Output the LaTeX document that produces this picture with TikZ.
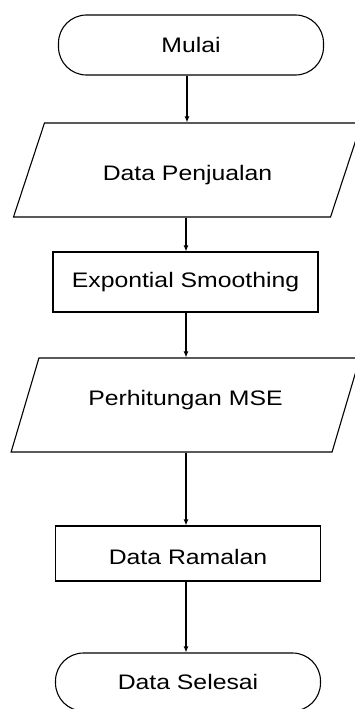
\documentclass[tikz,border=0pt]{standalone}
\usepackage{fontspec}
\setmainfont[FakeStretch=1.18]{Liberation Sans}
\usetikzlibrary{arrows.meta,shapes.geometric}
\newcommand{\geser}[2]{\raisebox{#1}[\height][\depth]{#2}}

\begin{document}
\begin{tikzpicture}[x=1pt,y=-1pt,>={Latex[length=6pt,width=5pt]},
  every node/.style={font=\fontsize{21}{25}\selectfont,line width=1.1pt},
  terminal/.style={draw,rectangle,rounded corners=28pt,minimum width=265pt,minimum height=60pt},
  proses/.style={draw,rectangle,minimum width=265pt,minimum height=60pt},
  io/.style={draw,trapezium,trapezium left angle=54,trapezium right angle=126,
    trapezium stretches=true,minimum width=349pt,minimum height=94pt}]
  \useasboundingbox (0,0) rectangle (355,709);
  % simbol alur
  \node[terminal] (mulai) at (191,45) {Mulai};
  \node[io] (dp) at (187.5,170) {\geser{-5pt}{Data Penjualan}};
  \node[proses] (es) at (185.5,282) {Expontial Smoothing};
  \node[io] (mse) at (185.5,405) {\geser{5pt}{Perhitungan MSE}};
  \node[proses,minimum height=55pt] (dr) at (188,553.5) {\geser{-3pt}{Data Ramalan}};
  \node[terminal,minimum height=58pt] (ds) at (188,682) {Data Selesai};
  % panah
  \draw[->,line width=1.1pt] (mulai.south -| 187,0) -- (dp.north -| 187,0);
  \draw[->,line width=1.1pt] (dp.south -| 186,0) -- (es.north -| 186,0);
  \draw[->,line width=1.1pt] (es.south -| 186,0) -- (mse.north -| 186,0);
  \draw[->,line width=1.1pt] (mse.south -| 186,0) -- (dr.north -| 186,0);
  \draw[->,line width=1.1pt] (dr.south -| 186,0) -- (ds.north -| 186,0);
\end{tikzpicture}
\end{document}
